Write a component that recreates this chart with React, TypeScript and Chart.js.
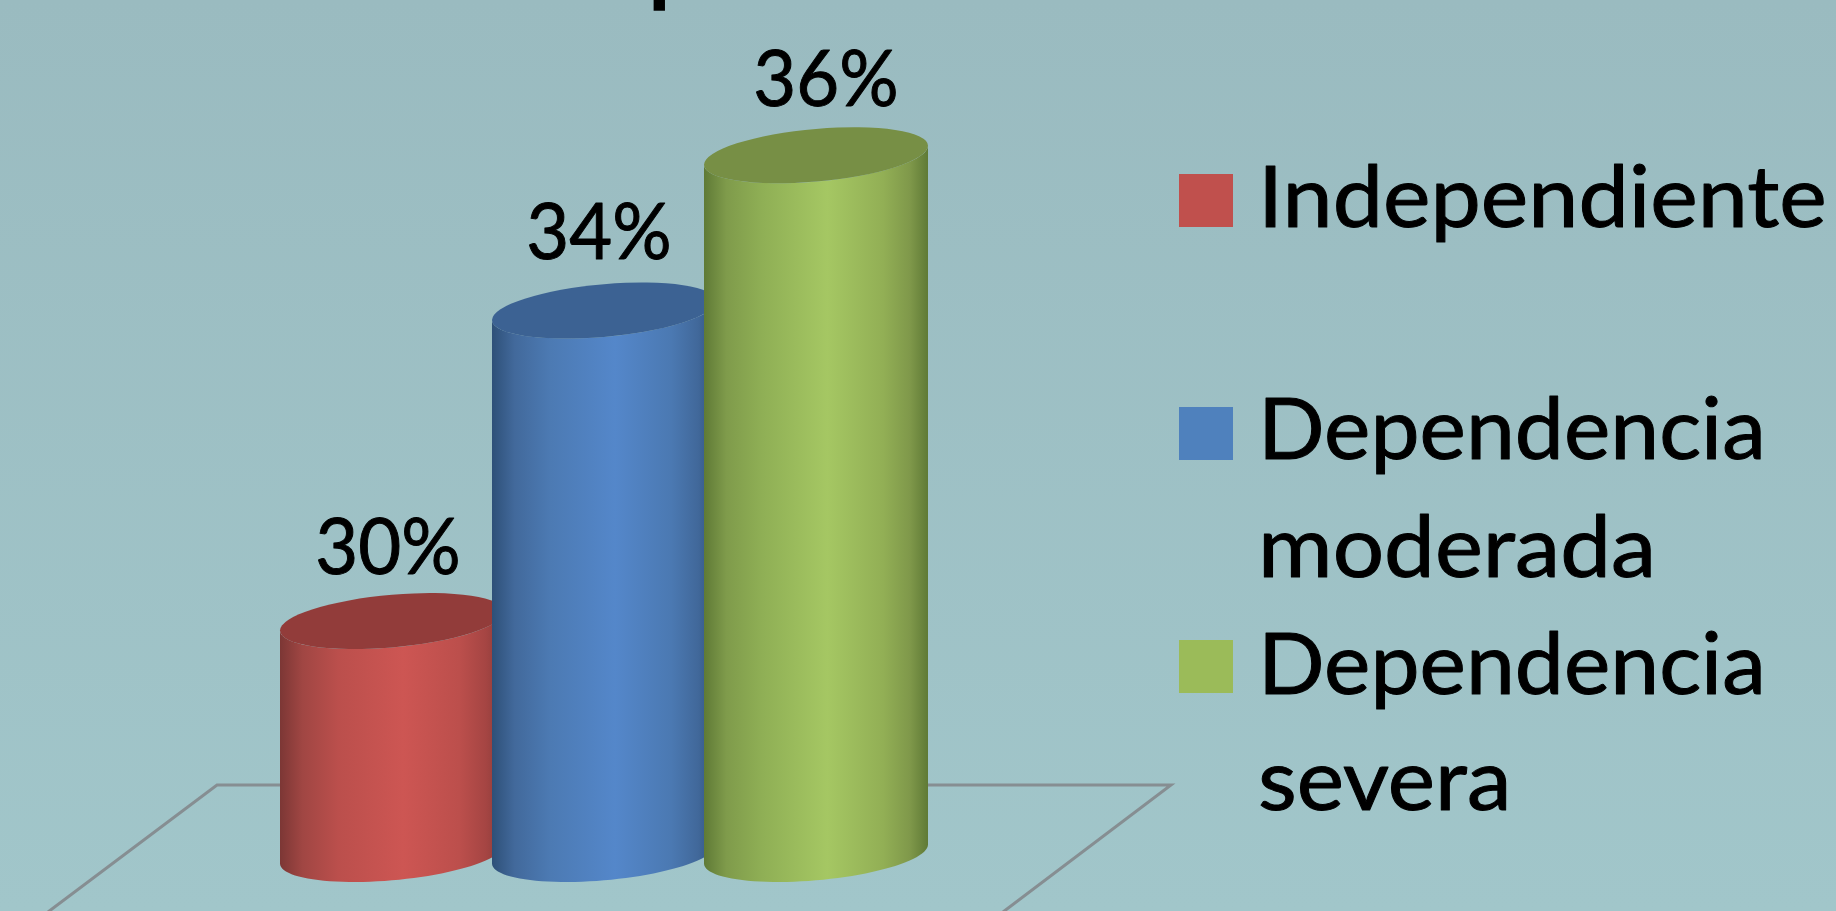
import React, { useEffect, useRef } from "react";
import { Chart, registerables } from "chart.js";

Chart.register(...registerables);

// Chart data
const categories = ["Independiente", "Dependencia moderada", "Dependencia severa"];
const percentages = [30, 34, 36];
const legendLines = [["Independiente"], ["Dependencia", "moderada"], ["Dependencia", "severa"]];
const seriesColors = ["#C0504D", "#4F81BD", "#9BBB59"];
const capColors = ["#923C3A", "#3C6293", "#778F45"];
// Horizontal shading of each cylinder wall, left to right
const wallStops = [0, 0.1, 0.26, 0.55, 0.8, 0.92, 1];
const wallShades = [
  ["#7C3735", "#A04643", "#BB4F4C", "#CD5653", "#BC4F4C", "#A54543", "#853A38"],
  ["#2E5078", "#42699B", "#4C7AB3", "#5487CA", "#4B79B2", "#41689A", "#2F527C"],
  ["#5F7A36", "#7F9B4B", "#8FAF55", "#A5C763", "#92AF55", "#7F984A", "#5F7A36"],
];
// Label placement relative to the cylinder top
const labelShiftX = [-4, -5, 10];
const labelLift = [47, 52, 49];

const FONT = "Lato, sans-serif";
const LABEL_SIZE = 78;
const LEGEND_SIZE = 86;

const legendRows = [
  { swatchTop: 174, baselines: [227], stretch: [1.045] },
  { swatchTop: 407, baselines: [459, 577], stretch: [1.02, 1.055] },
  { swatchTop: 640, baselines: [694, 810], stretch: [1.02, 1.04] },
];

// Fills a string with a horizontal stretch and a hairline stroke for extra weight
function drawStretched(ctx: any, text: string, x: number, y: number, stretch: number) {
  ctx.save();
  ctx.translate(x, y);
  ctx.scale(stretch, 1);
  ctx.lineWidth = 1;
  ctx.lineJoin = "round";
  ctx.strokeStyle = "#000";
  ctx.fillStyle = "#000";
  ctx.strokeText(text, 0, 0);
  ctx.fillText(text, 0, 0);
  ctx.restore();
}

// Cylinders replace the flat bars; each one is sized from its bar element
const cylinderPlugin = {
  id: "cylinders",
  beforeDatasetDraw(chart: any) {
    const { ctx } = chart;
    const meta = chart.getDatasetMeta(0);
    const floorY = chart.scales.y.getPixelForValue(chart.scales.y.min);
    meta.data.forEach((bar: any, i: number) => {
      const rx = bar.width / 2;
      const ry = 28;
      const skew = -9.5;
      const flat = Math.sqrt(ry * ry - skew * skew);
      const left = bar.x - rx;
      const right = bar.x + rx;

      const wall = ctx.createLinearGradient(left, 0, right, 0);
      wallStops.forEach((s, k) => wall.addColorStop(s, wallShades[i][k]));

      // Wall: lower half of the base ellipse, closed by the upper half of the top ellipse
      ctx.save();
      ctx.beginPath();
      ctx.moveTo(left, bar.y - skew);
      ctx.lineTo(left, floorY - skew);
      const steps = 48;
      for (let s = 0; s <= steps; s++) {
        const t = Math.PI - (Math.PI * s) / steps;
        ctx.lineTo(bar.x + rx * Math.cos(t), floorY + skew * Math.cos(t) + flat * Math.sin(t));
      }
      ctx.lineTo(right, bar.y + skew);
      for (let s = 0; s <= steps; s++) {
        const t = (Math.PI * s) / steps;
        ctx.lineTo(bar.x + rx * Math.cos(t), bar.y + skew * Math.cos(t) + flat * Math.sin(t));
      }
      ctx.closePath();
      ctx.fillStyle = wall;
      ctx.fill();

      // Top face
      ctx.beginPath();
      ctx.transform(rx, skew, 0, flat, bar.x, bar.y);
      ctx.arc(0, 0, 1, 0, Math.PI * 2);
      ctx.restore();
      ctx.fillStyle = capColors[i];
      ctx.fill();
    });
    return false;
  },
};

const floorPlugin = {
  id: "floor",
  beforeDatasetsDraw(chart: any) {
    const { ctx, chartArea } = chart;
    const backY = chartArea.bottom - 69;
    ctx.save();
    ctx.strokeStyle = "#868E92";
    ctx.lineWidth = 3;
    ctx.lineJoin = "miter";
    ctx.beginPath();
    ctx.moveTo(48, chart.height + 1);
    ctx.lineTo(217, backY);
    ctx.lineTo(1171, backY);
    ctx.lineTo(1003, chart.height + 1);
    ctx.stroke();
    ctx.restore();
  },
};

const annotationPlugin = {
  id: "annotations",
  afterDatasetsDraw(chart: any) {
    const { ctx } = chart;
    const meta = chart.getDatasetMeta(0);
    ctx.save();
    ctx.fillStyle = "#000";

    // Slide title, mostly above the visible area
    ctx.textAlign = "left";
    ctx.textBaseline = "alphabetic";
    ctx.font = `bold 92px ${FONT}`;
    ctx.fillText("p", 648, -5);

    // Value labels
    ctx.textAlign = "center";
    ctx.font = `${LABEL_SIZE}px ${FONT}`;
    meta.data.forEach((bar: any, i: number) => {
      drawStretched(ctx, `${percentages[i]}%`, bar.x + labelShiftX[i], bar.y - labelLift[i], 0.95);
    });

    // Legend
    ctx.textAlign = "left";
    ctx.font = `${LEGEND_SIZE}px ${FONT}`;
    legendRows.forEach((row, i) => {
      ctx.fillStyle = seriesColors[i];
      ctx.fillRect(1179, row.swatchTop, 54, 53);
      legendLines[i].forEach((line, k) =>
        drawStretched(ctx, line, 1258, row.baselines[k], row.stretch[k])
      );
    });
    ctx.restore();
  },
};

export default function App() {
  const canvasRef = useRef<HTMLCanvasElement>(null);

  useEffect(() => {
    document.body.style.margin = "0";
    const chart = new Chart(canvasRef.current!, {
      type: "bar",
      data: {
        labels: categories,
        datasets: [
          {
            data: percentages,
            backgroundColor: seriesColors,
            barPercentage: 224 / 212,
            categoryPercentage: 1,
          },
        ],
      },
      options: {
        animation: false,
        responsive: false,
        layout: { padding: { left: 286, right: 914, top: 0, bottom: 57 } },
        scales: {
          x: { display: false },
          y: { display: false, min: 27, max: 38 },
        },
        plugins: { legend: { display: false }, tooltip: { enabled: false } },
      },
      plugins: [floorPlugin, cylinderPlugin, annotationPlugin],
    });
    return () => chart.destroy();
  }, []);

  return (
    <div
      style={{
        width: 1836,
        height: 911,
        overflow: "hidden",
        background: "linear-gradient(180deg, #9ABBC0 0%, #A1C6CA 100%)",
      }}
    >
      <canvas ref={canvasRef} width={1836} height={911} style={{ display: "block" }} />
    </div>
  );
}
